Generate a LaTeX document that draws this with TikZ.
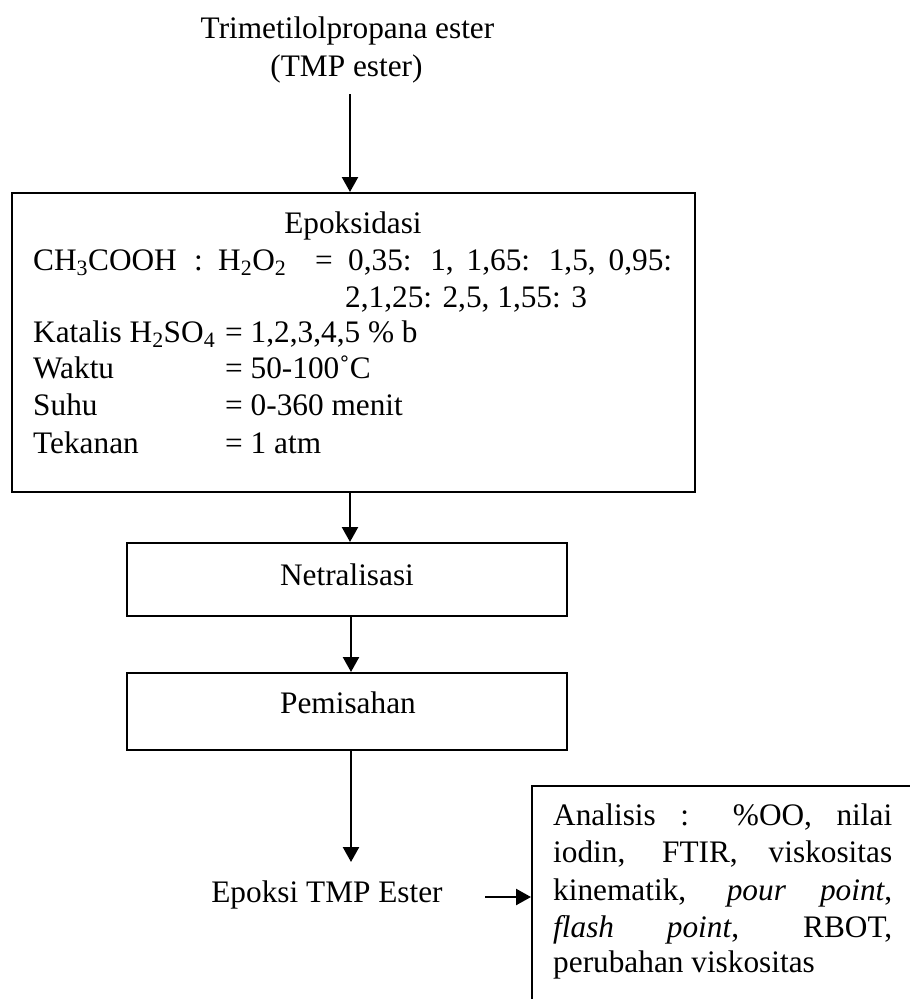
\documentclass[tikz,border=0pt]{standalone}
\usepackage{fontspec}
\setmainfont{Liberation Serif}
\usetikzlibrary{arrows.meta}
\begin{document}
\begin{tikzpicture}[x=1pt,y=-1pt,
  font=\fontsize{31.3}{36.5}\selectfont,
  box/.style={draw, line width=2pt, rectangle, inner sep=0pt},
  txt/.style={inner sep=0pt, anchor=base west},
  ctr/.style={inner sep=0pt, anchor=base},
  arr/.style={line width=2.4pt, -{Triangle[width=16pt,length=15pt]}}]
\useasboundingbox (0,0) rectangle (910,999);
\clip (0,0) rectangle (910,999);
\fill[white] (0,0) rectangle (910,999);

% title
\node[ctr] (t1) at (347.5,38) {Trimetilolpropana ester};
\node[ctr] (t2) at (346.5,76) {(TMP ester)};

% boxes
\node[box, minimum width=683pt, minimum height=299pt] (epo) at (353.5,342.5) {};
\node[box, minimum width=440pt, minimum height=73pt] (net) at (347,579.5) {};
\node[box, minimum width=440pt, minimum height=77pt] (pem) at (347,711.5) {};
\node[box, minimum width=468pt, minimum height=264pt] (ana) at (766,918) {};

% epoksidasi contents
\node[ctr] (e0) at (353,233) {Epoksidasi};
\node[txt] (e1a) at (33,270) {CH\textsubscript{3}COOH};
\node[txt] (e1b) at (194,270) {:};
\node[txt] (e1c) at (218,270) {H\textsubscript{2}O\textsubscript{2}};
\node[txt] (e1d) at (315,270) {=};
\node[txt] (e1e) at (348,270) {\makebox[324pt][s]{0,35: 1, 1,65: 1,5, 0,95:}};
\node[txt] (e2) at (345,307) {2,1,25: 2,5, 1,55: 3};
\node[txt] (e3a) at (33,342) {Katalis H\textsubscript{2}SO\textsubscript{4}};
\node[txt] (e3b) at (225,342) {= 1,2,3,4,5 \% b};
\node[txt] (e4a) at (33,378) {Waktu};
\node[txt] (e4b) at (225,378) {= 50-100˚C};
\node[txt] (e5a) at (33,415) {Suhu};
\node[txt] (e5b) at (225,415) {= 0-360 menit};
\node[txt] (e6a) at (33,453) {Tekanan};
\node[txt] (e6b) at (225,453) {= 1 atm};

% other texts
\node[ctr] (nt) at (347,585) {Netralisasi};
\node[ctr] (pt) at (348,713) {Pemisahan};
\node[ctr] (prod) at (327,902) {Epoksi TMP Ester};

% analysis text
\node[txt] (a1) at (553,825) {\makebox[339pt][s]{Analisis : \%OO, nilai}};
\node[txt] (a2) at (553,862) {\makebox[339pt][s]{iodin, FTIR, viskositas}};
\node[txt] (a3) at (553,900) {\makebox[339pt][s]{kinematik, \textit{pour point},}};
\node[txt] (a4) at (553,937) {\makebox[339pt][s]{\textit{flash point}, RBOT,}};
\node[txt] (a5) at (553,972) {perubahan viskositas};

% connectors
\coordinate (c1) at (350,94);
\coordinate (c4) at (351,862);
\coordinate (c5) at (485,897);
\draw[arr] (c1) -- (c1 |- epo.north);
\draw[arr] (epo.south -| c1) -- (net.north -| c1);
\draw[arr] (net.south -| c4) -- (pem.north -| c4);
\draw[arr] (pem.south -| c4) -- (c4);
\draw[arr] (c5) -- (c5 -| ana.west);
\end{tikzpicture}
\end{document}
